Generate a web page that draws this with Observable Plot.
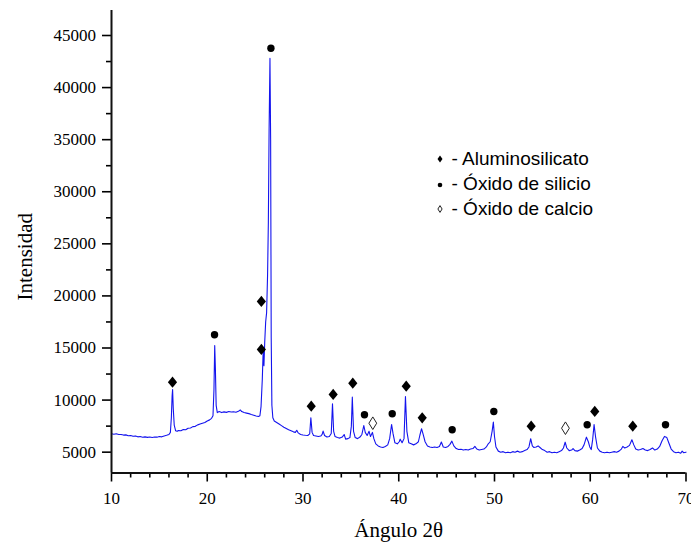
<!DOCTYPE html>
<html><head><meta charset="utf-8">
<script src="https://cdn.jsdelivr.net/npm/d3@7"></script>
<script src="https://cdn.jsdelivr.net/npm/@observablehq/plot@0.6"></script>
<style>body{margin:0;background:#fff}</style>
</head><body><div id="chart"></div><script>
// XRD trace: 2θ angle (degrees) and intensity (counts)
const twoTheta = [
10.0,10.25,10.5,10.75,11.0,11.25,11.5,11.75,12.0,12.25,12.5,12.75,13.0,13.25,13.5,13.75,14.0,14.25,14.5,14.75,
15.0,15.25,15.5,15.75,16.0,16.15,16.25,16.33,16.38,16.45,16.55,16.7,16.85,17.0,17.25,17.5,17.75,18.0,18.25,18.5,
18.75,19.0,19.25,19.5,19.75,20.0,20.25,20.45,20.6,20.7,20.78,20.85,20.93,21.05,21.25,21.5,21.75,22.0,22.25,22.5,
22.75,23.0,23.25,23.45,23.6,23.85,24.1,24.35,24.6,24.85,25.1,25.35,25.5,25.62,25.75,25.85,25.92,26.0,26.1,26.2,
26.3,26.38,26.46,26.55,26.62,26.68,26.75,26.85,27.0,27.25,27.5,27.75,28.0,28.25,28.5,28.75,29.0,29.2,29.35,29.5,
29.75,30.0,30.25,30.5,30.7,30.82,30.95,31.1,31.35,31.6,31.85,32.0,32.1,32.25,32.5,32.75,32.95,33.08,33.2,33.35,
33.6,33.85,34.1,34.3,34.45,34.7,34.9,35.05,35.15,35.28,35.45,35.7,35.95,36.15,36.35,36.5,36.7,36.9,37.05,37.25,
37.4,37.6,37.85,38.1,38.35,38.6,38.85,39.05,39.25,39.4,39.6,39.85,40.05,40.15,40.35,40.55,40.7,40.85,41.05,41.3,
41.55,41.8,42.05,42.2,42.38,42.55,42.75,43.0,43.25,43.5,43.75,44.0,44.25,44.45,44.65,44.9,45.15,45.35,45.55,45.75,
46.0,46.25,46.5,46.75,47.0,47.25,47.5,47.75,47.95,48.15,48.4,48.65,48.9,49.15,49.35,49.55,49.75,49.88,50.0,50.15,
50.4,50.65,50.9,51.15,51.4,51.65,51.9,52.15,52.4,52.65,52.9,53.15,53.4,53.6,53.78,53.95,54.1,54.35,54.55,54.75,
55.0,55.25,55.5,55.75,56.0,56.25,56.5,56.75,57.0,57.2,57.38,57.55,57.8,58.05,58.2,58.4,58.65,58.9,59.15,59.35,
59.6,59.8,59.95,60.1,60.25,60.4,60.55,60.75,61.0,61.25,61.5,61.75,62.0,62.25,62.5,62.75,63.0,63.25,63.4,63.6,
63.85,64.1,64.35,64.55,64.75,65.0,65.25,65.5,65.75,66.0,66.25,66.5,66.75,67.0,67.25,67.5,67.75,68.0,68.2,68.45,
68.7,68.95,69.2,69.45,69.6,69.75,70.0];
const intensity = [
6770,6720,6760,6690,6700,6640,6660,6580,6600,6520,6560,6470,6500,6430,6470,6420,6450,6410,6460,6440,
6500,6470,6560,6620,6700,6900,8300,10400,11020,9200,7600,7050,7000,7080,7050,7180,7150,7300,7320,7450,
7480,7620,7700,7780,7850,8000,8100,8250,8500,11000,15240,13000,9500,8800,8900,8800,8870,8820,8900,8850,
8880,8830,8920,9050,8900,8800,8750,8700,8620,8550,8480,8420,8500,9400,12000,15000,13300,15500,17500,18400,
22000,27000,36000,42800,35000,16000,9500,8300,8000,7850,7700,7550,7400,7280,7150,7050,6950,6900,7100,6850,
6700,6650,6620,6600,6750,8300,6900,6600,6550,6500,6550,6700,7020,6600,6450,6500,6800,9650,7000,6500,
6400,6350,6450,6700,6250,6300,6400,7500,10280,7000,6400,6300,6450,6700,7560,6900,6600,7000,6500,6900,
6300,5800,5600,5500,5450,5550,5700,6300,7660,6800,5900,5800,6000,6250,5900,6300,10350,7000,5900,5800,
5700,5800,6000,6600,7250,6700,6000,5600,5500,5450,5500,5450,5550,5970,5500,5450,5550,5750,6060,5600,
5350,5250,5280,5200,5250,5200,5300,5350,5550,5300,5200,5250,5300,5500,5800,6000,7000,7880,6500,5500,
5100,5000,5050,4950,5000,4950,5050,5000,5100,5000,5050,5150,5250,5500,6290,5600,5450,5500,5600,5450,
5250,5150,5000,5050,4950,5000,4950,5050,5150,5400,5960,5400,5150,5200,5350,5150,5100,5200,5350,5700,
6440,6000,5500,5250,6200,7660,6500,5400,5100,5000,4950,5000,4950,5000,5050,5000,5100,5300,5550,5400,
5500,5650,6190,5700,5300,5200,5250,5350,5200,5150,5250,5400,5200,5300,5550,6100,6510,6400,5900,5300,
5050,4950,5000,4900,5100,4950,5000];

// Phase markers above the peaks
const markerAngle = [16.37,20.76,25.65,25.65,26.65,30.86,33.15,35.2,36.42,37.29,39.32,40.78,42.45,45.58,49.93,53.83,57.41,59.68,60.47,64.44,67.86];
const markerIntensity = [11720,16270,19470,14860,43780,9420,10540,11620,8590,7780,8690,11340,8300,7150,8910,7500,7300,7630,8910,7500,7630];
const markerPhase = ["A","S","A","A","S","A","A","A","S","C","S","A","A","S","S","A","C","S","A","A","S"];

const phaseLabels = ["- Aluminosilicato","- Óxido de silicio","- Óxido de calcio"];
const xTicks = [10,20,30,40,50,60,70];
const xMinorTicks = [12,14,16,18,22,24,26,28,32,34,36,38,42,44,46,48,52,54,56,58,62,64,66,68];
const yTicks = [5000,10000,15000,20000,25000,30000,35000,40000,45000];
const yMinorTicks = [7500,12500,17500,22500,27500,32500,37500,42500];
const xDomain = [10, 70];
const yDomain = [3000, 47400];

const trace = twoTheta.map((x, i) => ({x, y: intensity[i]}));
const markers = markerAngle.map((x, i) => ({x, y: markerIntensity[i], phase: markerPhase[i]}));

function diamond(hw, hh) {
  return {draw(ctx) { ctx.moveTo(0, -hh); ctx.lineTo(hw, 0); ctx.lineTo(0, hh); ctx.lineTo(-hw, 0); ctx.closePath(); }};
}
const bigDiamond = diamond(4.6, 5.6);
const openDiamond = diamond(3.9, 6.3);
const smallDiamond = diamond(2.5, 3.4);
const smallOpenDiamond = diamond(2.1, 3.4);

const serif = "'Liberation Serif', 'Times New Roman', serif";
const sans = "'Liberation Sans', Arial, sans-serif";
const legendDx = 328.5, legendTextDx = 340, legendDy = [148.5, 173.5, 198.5];

const chart = Plot.plot({
  width: 691, height: 545,
  marginLeft: 111, marginRight: 5.5, marginTop: 10, marginBottom: 72.5,
  style: {fontFamily: serif, fontSize: "17px", color: "#000", background: "#fff"},
  x: {domain: xDomain, label: null},
  y: {domain: yDomain, label: null},
  marks: [
    Plot.line(trace, {x: "x", y: "y", stroke: "#1414ee", strokeWidth: 1.1}),
    Plot.dot(markers.filter(d => d.phase === "A"), {x: "x", y: "y", symbol: bigDiamond, fill: "#000", stroke: "none"}),
    Plot.dot(markers.filter(d => d.phase === "S"), {x: "x", y: "y", r: 3.7, fill: "#000", stroke: "none"}),
    Plot.dot(markers.filter(d => d.phase === "C"), {x: "x", y: "y", symbol: openDiamond, fill: "#fff", stroke: "#222", strokeWidth: 1}),
    Plot.axisX({ticks: xMinorTicks, tickSize: 5, tickFormat: () => "", strokeWidth: 1.6}),
    Plot.axisX({ticks: xTicks, tickSize: 9, tickPadding: 9.5, strokeWidth: 1.6, fontSize: 17}),
    Plot.axisY({ticks: yMinorTicks, tickSize: 5, tickFormat: () => "", strokeWidth: 1.6}),
    Plot.axisY({ticks: yTicks, tickSize: 9, tickPadding: 6.5, tickFormat: d => String(d), strokeWidth: 1.6, fontSize: 17}),
    Plot.ruleX([xDomain[0]], {strokeWidth: 2, stroke: "#111"}),
    Plot.ruleY([yDomain[0]], {strokeWidth: 2, stroke: "#111"}),
    Plot.text(["Intensidad"], {frameAnchor: "left", textAnchor: "middle", rotate: -90, dx: -86, dy: 15, fontSize: 21, fontFamily: serif}),
    Plot.text(["Ángulo 2θ"], {frameAnchor: "bottom", dy: 57, lineAnchor: "middle", fontSize: 21, fontFamily: serif}),
    Plot.text([phaseLabels[0]], {frameAnchor: "top-left", dx: legendTextDx, dy: legendDy[0], textAnchor: "start", lineAnchor: "middle", fontFamily: sans, fontSize: 19}),
    Plot.text([phaseLabels[1]], {frameAnchor: "top-left", dx: legendTextDx, dy: legendDy[1], textAnchor: "start", lineAnchor: "middle", fontFamily: sans, fontSize: 19}),
    Plot.text([phaseLabels[2]], {frameAnchor: "top-left", dx: legendTextDx, dy: legendDy[2], textAnchor: "start", lineAnchor: "middle", fontFamily: sans, fontSize: 19}),
    Plot.dot([0], {frameAnchor: "top-left", dx: legendDx, dy: legendDy[0], symbol: smallDiamond, fill: "#000", stroke: "none"}),
    Plot.dot([0], {frameAnchor: "top-left", dx: legendDx, dy: legendDy[1] + 1, r: 2.3, fill: "#000", stroke: "none"}),
    Plot.dot([0], {frameAnchor: "top-left", dx: legendDx, dy: legendDy[2], symbol: smallOpenDiamond, fill: "#fff", stroke: "#222", strokeWidth: 1})
  ]
});
document.getElementById("chart").append(chart);
</script></body></html>
